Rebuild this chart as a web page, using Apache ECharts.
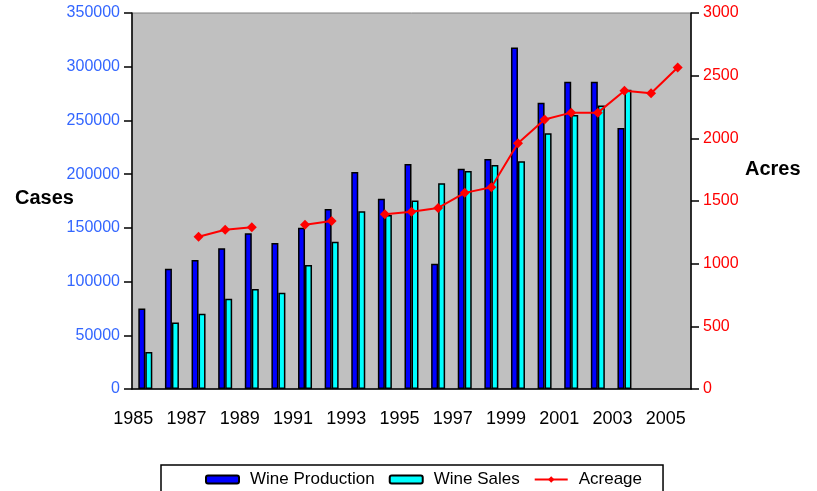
<!DOCTYPE html>
<html>
<head>
<meta charset="utf-8">
<script src="https://cdn.jsdelivr.net/npm/echarts@6/dist/echarts.min.js"></script>
<style>
  html, body { margin: 0; padding: 0; background: #fff; }
  #main { width: 817px; height: 491px; }
</style>
</head>
<body>
<div id="main"></div>
<script>
// years on the category axis
var years = ['1985', '1986', '1987', '1988', '1989', '1990', '1991', '1992', '1993', '1994', '1995',
  '1996', '1997', '1998', '1999', '2000', '2001', '2002', '2003', '2004', '2005'];
// cases
var production = [75000, 112000, 120000, 131000, 145000, 136000, 150000, 167500, 202000, 177000, 209500,
  116500, 205000, 214000, 318000, 266500, 286000, 286000, 243000, null, null];
var sales = [34500, 62000, 70000, 84000, 93000, 89500, 115500, 137000, 165500, 162000, 175500,
  191500, 203000, 208500, 212000, 238000, 255000, 264000, 278500, null, null];
// acres
var acreage = [null, null, 1215, 1270, 1290, null, 1310, 1340, null, 1395, 1415,
  1445, 1565, 1610, 1960, 2150, 2205, 2205, 2380, 2360, 2565];

var font = '"Liberation Sans", Arial, sans-serif';
var chart = echarts.init(document.getElementById('main'));
chart.setOption({
  animation: false,
  textStyle: { fontFamily: font },
  grid: {
    left: 132, right: 126, top: 13, bottom: 102,
    show: true, backgroundColor: '#C0C0C0', borderColor: '#808080', borderWidth: 1
  },
  legend: {
    left: 161, top: 465,
    padding: [6, 21, 12, 44],
    borderColor: '#000', borderWidth: 1.5,
    itemWidth: 33, itemHeight: 8, itemGap: 14,
    textStyle: { fontSize: 17, color: '#000', fontFamily: font, padding: [0, 0, 0, 6] },
    data: ['Wine Production', 'Wine Sales', 'Acreage']
  },
  graphic: [
    { type: 'text', left: 15, top: 188, style: { text: 'Cases', font: 'bold 20px ' + font, fill: '#000' } },
    { type: 'text', left: 745, top: 159, style: { text: 'Acres', font: 'bold 20px ' + font, fill: '#000' } }
  ],
  xAxis: {
    type: 'category',
    data: years,
    axisLine: { lineStyle: { color: '#000', width: 1.5 } },
    axisTick: { lineStyle: { color: '#000', width: 1.5 }, length: 6, interval: 0 },
    axisLabel: { interval: 1, color: '#000', fontSize: 18, margin: 21, padding: [0, 24, 0, 0] }
  },
  yAxis: [
    {
      type: 'value', min: 0, max: 350000, interval: 50000,
      axisLine: { show: true, lineStyle: { color: '#000', width: 1.5 } },
      axisTick: { show: true, length: 8, lineStyle: { color: '#000', width: 1.5 } },
      axisLabel: { color: '#3366FF', fontSize: 16, margin: 12, formatter: function (v) { return String(v); } },
      splitLine: { show: false }
    },
    {
      type: 'value', min: 0, max: 3000, interval: 500,
      axisLine: { show: true, lineStyle: { color: '#000', width: 1.5 } },
      axisTick: { show: true, length: 8, lineStyle: { color: '#000', width: 1.5 } },
      axisLabel: { color: '#FF0000', fontSize: 16, margin: 12, formatter: function (v) { return String(v); } },
      splitLine: { show: false }
    }
  ],
  series: [
    {
      name: 'Wine Production', type: 'bar', data: production,
      barWidth: 7, barGap: '0%',
      itemStyle: { color: '#0000FF', borderColor: '#000', borderWidth: 1.5 }
    },
    {
      name: 'Wine Sales', type: 'bar', data: sales,
      barWidth: 7,
      itemStyle: { color: '#00FFFF', borderColor: '#000', borderWidth: 1.5 }
    },
    {
      name: 'Acreage', type: 'line', yAxisIndex: 1, data: acreage,
      connectNulls: false,
      symbol: 'diamond', symbolSize: 10, showSymbol: true,
      lineStyle: { color: '#FF0000', width: 2 },
      itemStyle: { color: '#FF0000' }
    }
  ]
});
</script>
</body>
</html>
